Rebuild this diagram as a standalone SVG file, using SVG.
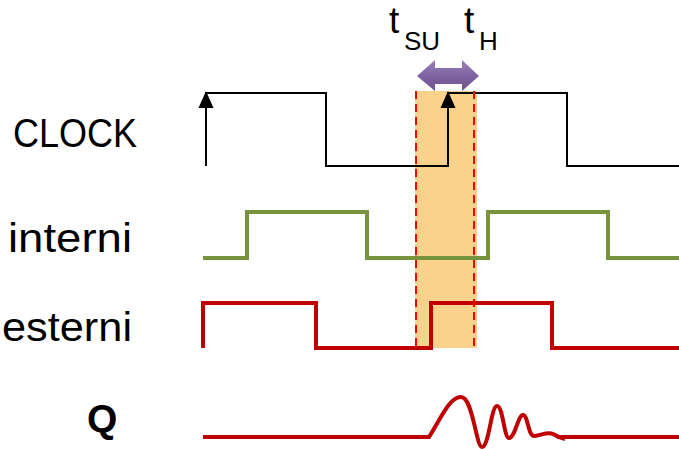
<svg xmlns="http://www.w3.org/2000/svg" width="679" height="449" viewBox="0 0 679 449">
<defs>
<style>
.lbl{font-family:"Liberation Sans",Arial,sans-serif;font-size:41px;fill:#000}
.tt{font-family:"Liberation Sans",Arial,sans-serif;fill:#000}
.sig{fill:none;stroke-linejoin:miter;stroke-linecap:butt}
.clk{stroke:#000;stroke-width:2}
.int{stroke:#77933C;stroke-width:4}
.ext{stroke:#C00000;stroke-width:4}
.dash{stroke:#FF0000;stroke-width:2;stroke-dasharray:8 5;fill:none}
</style>
<linearGradient id="pg" x1="0" y1="0" x2="0" y2="1">
<stop offset="0" stop-color="#9A80BE"/>
<stop offset="0.5" stop-color="#8064A2"/>
<stop offset="1" stop-color="#6E5390"/>
</linearGradient>
</defs>
<rect id="window" x="415" y="91" width="62" height="257" fill="#FAD28C"/>
<g id="labels">
<text id="lbl-clock" class="lbl" x="13" y="147" textLength="124" lengthAdjust="spacingAndGlyphs">CLOCK</text>
<text id="lbl-interni" class="lbl" x="8" y="252" textLength="124" lengthAdjust="spacingAndGlyphs">interni</text>
<text id="lbl-esterni" class="lbl" x="2" y="341" textLength="130" lengthAdjust="spacingAndGlyphs">esterni</text>
<text id="lbl-q" x="87" y="432" style="font-family:'Liberation Sans',Arial,sans-serif;font-weight:bold;font-size:39px">Q</text>
<text id="lbl-tsu" class="tt" x="389" y="33" font-size="37">t<tspan x="404" y="50" font-size="26">SU</tspan></text>
<text id="lbl-th" class="tt" x="464" y="33" font-size="37">t<tspan x="479" y="50" font-size="26">H</tspan></text>
</g>
<g id="signals">
<path id="clock" class="sig clk" d="M206,166 V93 H326 V166 H448 V93 H567 V166 H679"/>
<polygon points="206,91 198.5,108 213.5,108" fill="#000"/>
<polygon points="448,91 440.5,108 455.5,108" fill="#000"/>
<path id="interni" class="sig int" d="M203,258 H247 V212 H367 V258 H488 V212 H608 V258 H679"/>
<path id="esterni" class="sig ext" d="M203,348 V303 H316 V348 H431 V303 H552 V348 H679"/>
<path id="q" class="sig ext" stroke-linejoin="round" d="M203,437 H429 C440,420 449,397 461,397 C473,397 476,447 482,447 C489,447 491,406 497,406 C503,406 504,438 509,438 C515,438 518,415 523,415 C528,415 528,436 534,436 C541,436 547,431 553,434 C558,437 561,438 565,439"/>
<path class="sig ext" d="M557,437 H679"/>
</g>
<g id="connectors">
<line class="dash" x1="416" y1="91" x2="416" y2="348"/>
<line class="dash" x1="474" y1="91" x2="474" y2="348"/>
<polygon id="tsu-th-arrow" points="417,76 435,60 435,68 462,68 462,60 479,76 462,91 462,84 435,84 435,91" fill="url(#pg)"/>
</g>
</svg>
